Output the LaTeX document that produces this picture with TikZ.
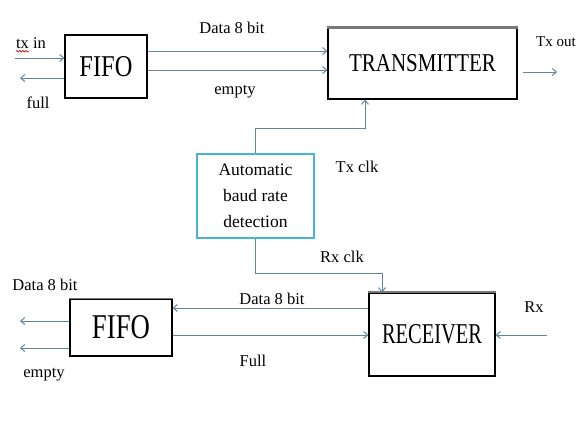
\documentclass[tikz,border=0pt]{standalone}
\usepackage{fontspec}
\usepackage{graphicx}
\setmainfont{Liberation Serif}
\usetikzlibrary{arrows.meta,decorations.pathmorphing}
\definecolor{lineC}{RGB}{95,135,155}
\definecolor{autoC}{RGB}{70,180,215}
\definecolor{topC}{RGB}{120,120,120}
\newcommand{\fitbox}[3]{\resizebox{#1}{#2}{#3}}
\begin{document}
\begin{tikzpicture}[x=1pt,y=-1pt,
  blk/.style={draw=black, line width=1.3pt, fill=white, inner sep=0pt},
  sig/.style={draw=lineC, line width=1pt},
  arr/.style={sig, -{Straight Barb[length=4pt,width=7pt]}},
  lbl/.style={font=\fontsize{16.5}{18}\selectfont, inner sep=0pt}]
\useasboundingbox[fill=white] (0,0) rectangle (578,434);

% blocks
\node[blk, minimum width=82pt, minimum height=63pt] (fifo1) at (106,66.5) {\fitbox{53pt}{20pt}{FIFO}};
\node[blk, minimum width=189pt, minimum height=71pt] (tx) at (422.5,63.5) {\fitbox{147pt}{17pt}{TRANSMITTER}};
\node[blk, draw=autoC, line width=1.2pt, minimum width=117pt, minimum height=84pt,
      align=center, font=\fontsize{17.5}{26}\selectfont] (auto) at (255.5,196) {Automatic\\baud rate\\detection};
\node[blk, minimum width=126pt, minimum height=83pt] (rx) at (432,334.5) {\fitbox{100pt}{19pt}{RECEIVER}};
\node[blk, minimum width=102pt, minimum height=57pt] (fifo2) at (121,327.5) {\fitbox{58pt}{23pt}{FIFO}};

% grey top edges
\draw[topC, line width=2.5pt] (tx.north west) -- (tx.north east);
\draw[topC, line width=2pt] (rx.north west) -- (rx.north east);
\draw[topC, line width=1.5pt] (fifo2.north west) -- (fifo2.north east);

% top FIFO
\coordinate (txin) at (15,58);
\draw[arr] (txin) -- (txin -| fifo1.west);
\coordinate (full) at (20,78);
\draw[arr] (full -| fifo1.west) -- (full);
\coordinate (d1) at (0,51);
\draw[arr] (d1 -| fifo1.east) -- (d1 -| tx.west);
\coordinate (d2) at (0,70);
\draw[arr] (d2 -| fifo1.east) -- (d2 -| tx.west);
\coordinate (txo) at (557,72);
\draw[arr, shorten <=5pt] (txo -| tx.east) -- (txo);

% clocks
\coordinate (tc) at (365,128);
\draw[arr] (auto.north) |- (tc) -- (tc |- tx.south);
\coordinate (rc) at (382,273);
\draw[arr] (auto.south) |- (rc) -- (rc |- rx.north);

% receiver side
\coordinate (d3) at (0,308);
\draw[arr] (d3 -| rx.west) -- (d3 -| fifo2.east);
\coordinate (d4) at (0,335);
\draw[arr] (d4 -| fifo2.east) -- (d4 -| rx.west);
\coordinate (rxi) at (547,335);
\draw[arr] (rxi) -- (rxi -| rx.east);
\coordinate (o1) at (20,321);
\draw[arr] (o1 -| fifo2.west) -- (o1);
\coordinate (o2) at (20,348);
\draw[arr] (o2 -| fifo2.west) -- (o2);

% labels
\node[lbl] (ltxin) at (31,43) {tx in};
\draw[red!80!black, line width=0.6pt, decorate, decoration={snake, amplitude=0.8pt, segment length=3pt}]
  ([yshift=-2.5pt]ltxin.south west) -- ++(13,0);
\node[lbl] (lfull) at (38,103) {full};
\node[lbl] (ldata1) at (232,28) {Data 8 bit};
\node[lbl] (lempty1) at (235,92) {empty};
\node[lbl, anchor=east, font=\fontsize{15}{17}\selectfont] (ltxout) at (576,42) {Tx out};
\node[lbl] (ltxclk) at (357,167) {Tx clk};
\node[lbl] (lrxclk) at (342,257) {Rx clk};
\node[lbl] (lrx) at (534,307) {Rx};
\node[lbl] (ldata2) at (45,285) {Data 8 bit};
\node[lbl] (ldata3) at (272,299) {Data 8 bit};
\node[lbl] (lfull2) at (253,361) {Full};
\node[lbl] (lempty2) at (44,375) {empty};
\end{tikzpicture}
\end{document}
